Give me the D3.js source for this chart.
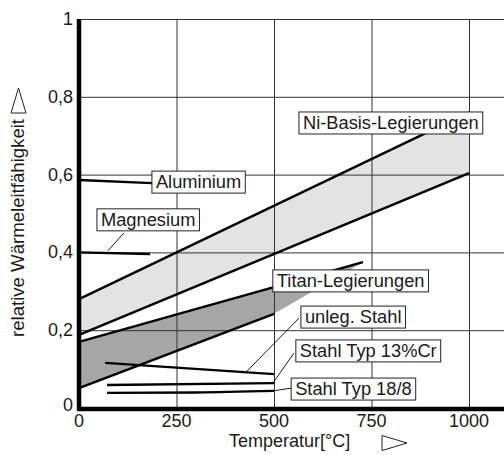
<!DOCTYPE html>
<html>
<head>
<meta charset="utf-8">
<script src="https://cdn.jsdelivr.net/npm/d3@7"></script>
<style>
  body { margin: 0; background: #fff; }
  text { font-family: "Liberation Sans", Arial, sans-serif; fill: #1a1a1a; }
</style>
</head>
<body>
<svg id="chart" width="504" height="455"></svg>
<script>
// data (temperature in °C, relative conductivity)
const xTicks = [0, 250, 500, 750, 1000];
const yTicks = [0, 0.2, 0.4, 0.6, 0.8, 1];
const yTickLabels = ['0', '0,2', '0,4', '0,6', '0,8', '1'];

const niUpper = [[0, 0.28], [1000, 0.76]];
const niLower = [[0, 0.188], [1000, 0.604]];
const titanUpper = [[0, 0.17], [728, 0.375]];
const titanLower = [[0, 0.051], [500, 0.242]];
const aluminium = [[0, 0.586], [187, 0.578]];
const magnesium = [[0, 0.40], [182, 0.396]];
const unlegStahl = [[67, 0.116], [500, 0.087]];
const stahlCr13 = [[72, 0.059], [500, 0.064]];
const stahl188 = [[72, 0.039], [300, 0.040], [500, 0.044]];

// annotation boxes: text, left (°C), top (value)
const labels = [
  ['Ni-Basis-Legierungen', 564, 0.761],
  ['Aluminium', 187, 0.609],
  ['Magnesium', 46, 0.512],
  ['Titan-Legierungen', 497, 0.355],
  ['unleg. Stahl', 569, 0.262],
  ['Stahl Typ 13%Cr', 556, 0.175],
  ['Stahl Typ 18/8', 544, 0.077]
];
// thin leader lines from curve to box
const leaders = [
  [[74, 0.404], [115, 0.450]],
  [[431, 0.095], [564, 0.231]],
  [[497, 0.064], [551, 0.141]],
  [[497, 0.044], [544, 0.051]]
];

const svg = d3.select('#chart');
const x = d3.scaleLinear().domain([0, 1000]).range([79, 469]);
const y = d3.scaleLinear().domain([0, 1]).range([408, 19]);
const right = 504;

const line = d3.line().x(d => x(d[0])).y(d => y(d[1]));

// bands
svg.append('path')
  .attr('d', line(niUpper.concat(niLower.slice().reverse())) + 'Z')
  .attr('fill', '#e3e3e3');
svg.append('path')
  .attr('d', line(titanUpper.concat(titanLower.slice().reverse())) + 'Z')
  .attr('fill', '#a6a6a6');

// grid
const grid = svg.append('g').attr('stroke', '#333').attr('stroke-width', 1);
grid.selectAll('.gx').data(xTicks.slice(1)).enter().append('line')
  .attr('x1', d => x(d) + 0.5).attr('x2', d => x(d) + 0.5)
  .attr('y1', y(1)).attr('y2', y(0));
grid.selectAll('.gy').data(yTicks.slice(1)).enter().append('line')
  .attr('x1', x(0)).attr('x2', right)
  .attr('y1', d => y(d) + 0.5).attr('y2', d => y(d) + 0.5);

// curves
const curves = [niUpper, niLower, titanUpper, titanLower, aluminium, magnesium, unlegStahl, stahlCr13, stahl188];
svg.append('g').selectAll('path').data(curves).enter().append('path')
  .attr('d', d => line.curve(d3.curveMonotoneX)(d))
  .attr('fill', 'none').attr('stroke', '#000').attr('stroke-width', 2.4);

svg.append('g').selectAll('path').data(leaders).enter().append('path')
  .attr('d', d => line.curve(d3.curveLinear)(d))
  .attr('fill', 'none').attr('stroke', '#000').attr('stroke-width', 0.9);

// label boxes
const lg = svg.append('g').selectAll('g').data(labels).enter().append('g')
  .attr('transform', d => `translate(${x(d[1])},${y(d[2])})`);
lg.append('rect').attr('height', 22)
  .attr('fill', '#fff').attr('stroke', '#222').attr('stroke-width', 1);
lg.append('text').attr('x', 4).attr('y', 17).attr('font-size', 18.3).text(d => d[0]);
lg.each(function () {
  const g = d3.select(this);
  const w = g.select('text').node().getComputedTextLength();
  g.select('rect').attr('width', w + 8);
});

// axes
svg.append('line').attr('x1', x(0)).attr('x2', x(0)).attr('y1', y(1)).attr('y2', y(0) + 2)
  .attr('stroke', '#000').attr('stroke-width', 4.5);
svg.append('line').attr('x1', x(0) - 2).attr('x2', right).attr('y1', y(0) + 1).attr('y2', y(0) + 1)
  .attr('stroke', '#000').attr('stroke-width', 4.5);

svg.append('g').selectAll('text').data(xTicks).enter().append('text')
  .attr('x', d => x(d)).attr('y', 427).attr('text-anchor', 'middle').attr('font-size', 18)
  .text(d => d);
svg.append('g').selectAll('text').data(yTicks).enter().append('text')
  .attr('x', 73).attr('y', d => y(d) + (d === 0 ? 3 : 6)).attr('text-anchor', 'end').attr('font-size', 18)
  .text((d, i) => yTickLabels[i]);

// axis titles with arrow triangles
svg.append('text').attr('x', 229).attr('y', 447).attr('font-size', 18).text('Temperatur[°C]');
svg.append('path').attr('d', 'M382,435.5 L407,443 L382,450.5 Z')
  .attr('fill', '#fff').attr('stroke', '#222').attr('stroke-width', 1);

svg.append('text').attr('transform', 'translate(24,337) rotate(-90)')
  .attr('font-size', 18.6).text('relative Wärmeleitfähigkeit');
svg.append('path').attr('d', 'M11,113 L18.5,88 L26,113 Z')
  .attr('fill', '#fff').attr('stroke', '#222').attr('stroke-width', 1);
</script>
</body>
</html>
